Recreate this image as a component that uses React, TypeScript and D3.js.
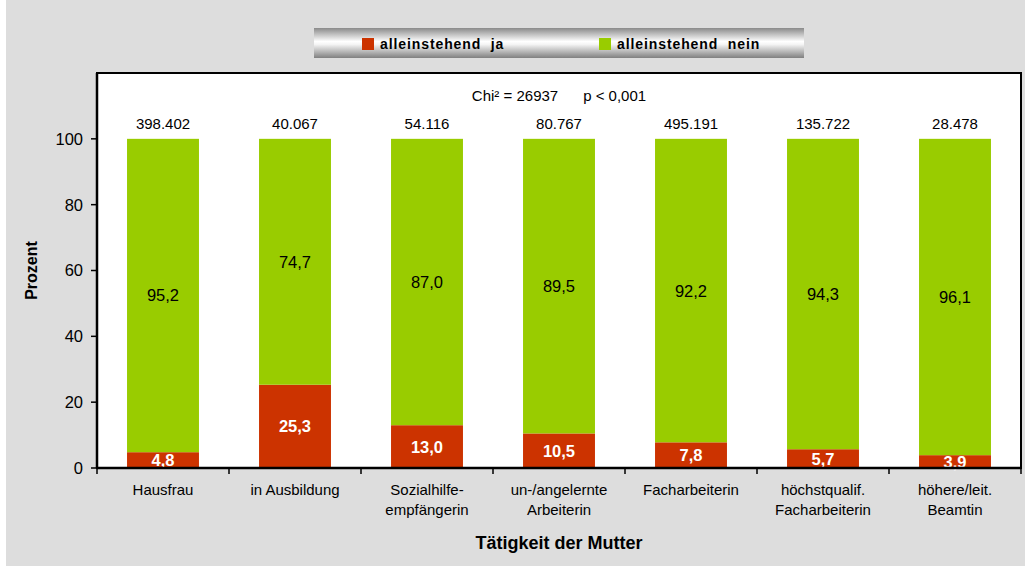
import React from "react";
import * as d3 from "d3";

const categories = [
  ["Hausfrau"],
  ["in Ausbildung"],
  ["Sozialhilfe-", "empfängerin"],
  ["un-/angelernte", "Arbeiterin"],
  ["Facharbeiterin"],
  ["höchstqualif.", "Facharbeiterin"],
  ["höhere/leit.", "Beamtin"],
];
const ja = [4.8, 25.3, 13.0, 10.5, 7.8, 5.7, 3.9];
const nein = [95.2, 74.7, 87.0, 89.5, 92.2, 94.3, 96.1];
const totals = ["398.402", "40.067", "54.116", "80.767", "495.191", "135.722", "28.478"];
const yTicks = [0, 20, 40, 60, 80, 100];

const W = 1025,
  H = 566;
const margin = { top: 73, right: 4, bottom: 98, left: 97 };
const red = "#CC3300",
  green = "#99CC00";
const font = "'Liberation Sans', Arial, sans-serif";

const fmt = (v: number) => v.toFixed(1).replace(".", ",");

const App = () => {
  const innerW = W - margin.left - margin.right;
  const innerH = H - margin.top - margin.bottom;

  const x = d3
    .scaleBand<number>()
    .domain(d3.range(categories.length))
    .range([0, innerW])
    .paddingInner(0.455)
    .paddingOuter(0.2275);
  const step = innerW / categories.length;

  const y = d3.scaleLinear().domain([0, 120]).range([innerH, 0]);

  return (
    <svg
      width={W}
      height={H}
      style={{ position: "absolute", left: 0, top: 0, fontFamily: font }}
    >
      <rect x={0} y={0} width={W} height={H} fill="#fff" />
      <rect x={6} y={0} width={W - 6} height={H} fill="#DDDDDD" />

      <defs>
        <linearGradient id="legGrad" x1="0" y1="0" x2="0" y2="1">
          <stop offset="0" stopColor="#8a8a8a" />
          <stop offset="0.45" stopColor="#ffffff" />
          <stop offset="0.55" stopColor="#f4f4f4" />
          <stop offset="1" stopColor="#808080" />
        </linearGradient>
      </defs>

      {/* legend */}
      <rect x={314} y={28} width={490} height={30} fill="url(#legGrad)" />
      <rect x={362} y={38} width={12} height={12} fill={red} />
      <text x={380} y={49} fontSize={14} letterSpacing={0.9} fontWeight="bold" fill="#000" style={{ whiteSpace: "pre" }}>
        {"alleinstehend  ja"}
      </text>
      <rect x={599} y={38} width={12} height={12} fill={green} />
      <text x={617} y={49} fontSize={14} letterSpacing={0.9} fontWeight="bold" fill="#000" style={{ whiteSpace: "pre" }}>
        {"alleinstehend  nein"}
      </text>

      <g transform={`translate(${margin.left},${margin.top})`}>
        <rect x={0} y={0} width={innerW} height={innerH} fill="#fff" stroke="#000" strokeWidth={2} />

        <text x={innerW / 2} y={28} textAnchor="middle" fontSize={15} style={{ whiteSpace: "pre" }}>
          {"Chi² = 26937      p < 0,001"}
        </text>

        {categories.map((c, i) => {
          const bx = x(i)!;
          const bw = x.bandwidth();
          return (
            <g key={i}>
              <rect x={bx} y={y(ja[i])} width={bw} height={innerH - y(ja[i])} fill={red} />
              <rect
                x={bx}
                y={y(ja[i] + nein[i])}
                width={bw}
                height={y(ja[i]) - y(ja[i] + nein[i])}
                fill={green}
              />
              <text
                x={bx + bw / 2}
                y={y(ja[i] / 2)}
                dy="0.36em"
                textAnchor="middle"
                fontSize={16.5}
                fontWeight="bold"
                fill="#fff"
              >
                {fmt(ja[i])}
              </text>
              <text
                x={bx + bw / 2}
                y={y(ja[i] + nein[i] / 2)}
                dy="0.36em"
                textAnchor="middle"
                fontSize={16.5}
                fill="#000"
              >
                {fmt(nein[i])}
              </text>
              <text x={bx + bw / 2} y={y(100) - 10} textAnchor="middle" fontSize={15} fill="#000">
                {totals[i]}
              </text>
              {c.map((line, j) => (
                <text
                  key={j}
                  x={bx + bw / 2}
                  y={innerH + 27 + j * 20}
                  textAnchor="middle"
                  fontSize={15}
                  fill="#000"
                >
                  {line}
                </text>
              ))}
            </g>
          );
        })}

        {/* axes */}
        <line x1={0} x2={innerW} y1={innerH} y2={innerH} stroke="#000" strokeWidth={2.5} />
        <line x1={0} x2={0} y1={0} y2={innerH} stroke="#000" strokeWidth={2.5} />
        {yTicks.map((t) => (
          <g key={t}>
            <line x1={-6} x2={0} y1={y(t)} y2={y(t)} stroke="#000" strokeWidth={1.5} />
            <text x={-14} y={y(t)} dy="0.36em" textAnchor="end" fontSize={16.5}>
              {t}
            </text>
          </g>
        ))}
        {d3.range(categories.length + 1).map((i) => (
          <line key={i} x1={i * step} x2={i * step} y1={innerH} y2={innerH + 6} stroke="#000" strokeWidth={1.5} />
        ))}

        <text
          transform={`translate(${-60},${innerH / 2}) rotate(-90)`}
          textAnchor="middle"
          fontSize={16}
          fontWeight="bold"
        >
          Prozent
        </text>
        <text x={innerW / 2} y={innerH + 81} textAnchor="middle" fontSize={18} fontWeight="bold">
          Tätigkeit der Mutter
        </text>
      </g>
    </svg>
  );
};

export default App;
